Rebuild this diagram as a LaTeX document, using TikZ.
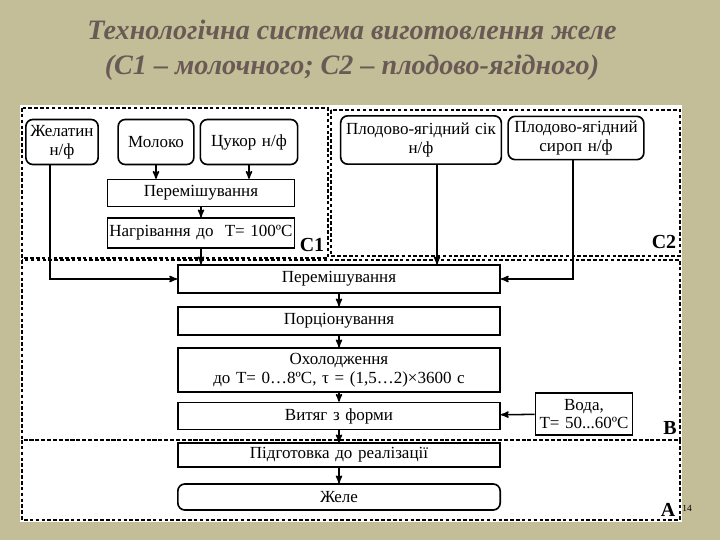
\documentclass[tikz,border=0pt]{standalone}
\usepackage{fontspec}
\setmainfont{Liberation Serif}
\usetikzlibrary{arrows,positioning}
\definecolor{paper}{RGB}{196,190,152}
\definecolor{titlecol}{RGB}{105,90,85}
\begin{document}
\begin{tikzpicture}[x=0.03cm,y=-0.03cm,>=stealth',font=\fontsize{14.5}{16}\selectfont]
  \tikzstyle{stage}=[rectangle,draw,line width=1.4pt,fill=white,inner sep=1pt,align=center]
  \tikzstyle{src}=[stage,rounded corners=6pt]
  \tikzstyle{zone}=[densely dashed,line width=1.1pt]
  \tikzstyle{link}=[->,line width=1.3pt]
  \tikzstyle{tag}=[font=\bfseries\fontsize{17}{17}\selectfont]
  \fill[paper] (0,0) rectangle (720,540);
  \fill[white] (20,105) rectangle (682,522);
  \node[titlecol,font=\itshape\bfseries\fontsize{24}{30}\selectfont,align=center] (title) at (352,50)
    {Технологічна система виготовлення желе\\(С1 -- молочного; С2 -- плодово-ягідного)};
  % zones
  \draw[zone] (22,108) rectangle (328,258);
  \draw[zone] (331,110) rectangle (680,256);
  \draw[zone] (22,260) rectangle (680,440);
  \draw[zone] (22,440) rectangle (680,520);
  \node[tag] (c1) at (312,245) {С1};
  \node[tag] (c2) at (664,242) {С2};
  \node[tag] (b) at (670,428) {В};
  \node[tag] (a) at (668,510) {А};
  \node[font=\fontsize{8}{8}\selectfont] (pg) at (687,508) {14};
  \coordinate (gx) at (50,0);
  \coordinate (jx) at (437,0);
  \coordinate (sx) at (573,0);
  % sources
  \node[src,text width=2.1cm,minimum height=1.35cm] (gel) at (62,142) {Желатин\\н/ф};
  \node[src,text width=2.2cm,minimum height=1.35cm] (milk) at (156,142) {Молоко};
  \node[src,text width=2.85cm,minimum height=1.35cm] (sugar) at (249,142) {Цукор н/ф};
  \node[src,text width=4.75cm,minimum height=1.45cm] (juice) at (421,140) {Плодово-ягідний сік\\н/ф};
  \node[src,text width=4cm,minimum height=1.3cm] (syrup) at (576,138) {Плодово-ягідний\\сироп н/ф};
  % C1 chain
  \node[stage,text width=5.55cm,minimum height=0.8cm] (mix1) at (201,193) {Перемішування};
  \node[stage,text width=5.55cm,minimum height=0.9cm] (heat) at (201,233) {Нагрівання до\ \ Т= 100ºС};
  % main chain
  \node[stage,text width=9.6cm,minimum height=0.84cm] (mix2) at (339,279) {Перемішування};
  \node[stage,text width=9.6cm,minimum height=0.84cm] (port) at (339,321) {Порціонування};
  \node[stage,text width=9.6cm,minimum height=1.32cm] (cool) at (339,370) {Охолодження\\до Т= 0…8ºС, τ = (1,5…2)×3600 с};
  \node[stage,text width=9.6cm,minimum height=0.81cm] (pull) at (339,416) {Витяг з форми};
  \node[stage,text width=2.85cm,minimum height=1.26cm] (water) at (584,414) {Вода,\\Т= 50...60ºС};
  \node[stage,text width=9.6cm,minimum height=0.72cm] (prep) at (339,455) {Підготовка до реалізації};
  \node[src,text width=9.6cm,minimum height=0.78cm] (jelly) at (339,497) {Желе};
  % connectors
  \draw[link] (milk.south) -- (mix1.north -| milk.south);
  \draw[link] (sugar.south) -- (mix1.north -| sugar.south);
  \draw[link] (mix1) -- (heat);
  \draw[link] (heat.south) -- (mix2.north -| heat.south);
  \draw[link] (gel.south -| gx) |- (mix2.west);
  \draw[link] (juice.south -| jx) -- (mix2.north -| jx);
  \draw[link] (syrup.south -| sx) |- (mix2.east);
  \draw[link] (mix2) -- (port);
  \draw[link] (port) -- (cool);
  \draw[link] (cool) -- (pull);
  \draw[link] (pull) -- (prep);
  \draw[link] (prep) -- (jelly);
  \draw[link] (water) -- (pull);
\end{tikzpicture}
\end{document}
